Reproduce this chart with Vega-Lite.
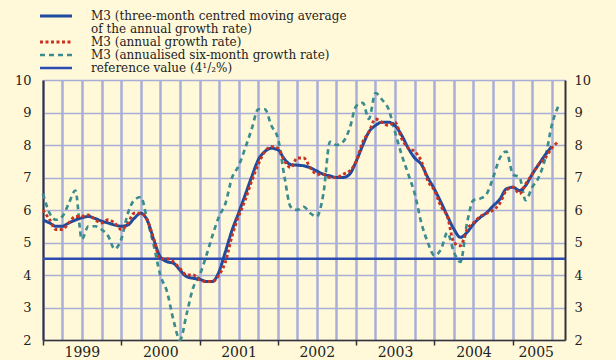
{
  "$schema": "https://vega.github.io/schema/vega-lite/v6.json",
  "width": 522,
  "height": 260,
  "autosize": "none",
  "padding": {"left": 43, "top": 80, "right": 51, "bottom": 20},
  "background": "#FFF9DA",
  "config": {
    "view": {"stroke": null, "fill": "#FFF9DA"},
    "font": "DejaVu Serif"
  },
  "data": {"values": [
    {"date":"1999-01-01","a":5.69,"b":6.0,"c":6.5,"d":4.5},
    {"date":"1999-02-01","a":5.6,"b":5.7,"c":5.9},
    {"date":"1999-03-01","a":5.5,"b":5.4,"c":5.7},
    {"date":"1999-04-01","a":5.5,"b":5.4,"c":5.8},
    {"date":"1999-05-01","a":5.6,"b":5.6,"c":6.2},
    {"date":"1999-06-01","a":5.69,"b":5.8,"c":6.6},
    {"date":"1999-07-01","a":5.76,"b":5.8,"c":5.1},
    {"date":"1999-08-01","a":5.8,"b":5.85,"c":5.5},
    {"date":"1999-09-01","a":5.74,"b":5.7,"c":5.5},
    {"date":"1999-10-01","a":5.66,"b":5.6,"c":5.4},
    {"date":"1999-11-01","a":5.6,"b":5.7,"c":5.2},
    {"date":"1999-12-01","a":5.54,"b":5.6,"c":4.8},
    {"date":"2000-01-01","a":5.5,"b":5.4,"c":5.1},
    {"date":"2000-02-01","a":5.54,"b":5.6,"c":5.9},
    {"date":"2000-03-01","a":5.74,"b":5.9,"c":6.3},
    {"date":"2000-04-01","a":5.9,"b":5.9,"c":6.4},
    {"date":"2000-05-01","a":5.69,"b":5.7,"c":5.7},
    {"date":"2000-06-01","a":5.08,"b":5.1,"c":4.9},
    {"date":"2000-07-01","a":4.56,"b":4.5,"c":4.0},
    {"date":"2000-08-01","a":4.41,"b":4.5,"c":3.5},
    {"date":"2000-09-01","a":4.36,"b":4.4,"c":2.6},
    {"date":"2000-10-01","a":4.15,"b":4.2,"c":2.0},
    {"date":"2000-11-01","a":3.95,"b":4.0,"c":2.8},
    {"date":"2000-12-01","a":3.9,"b":4.0,"c":3.6},
    {"date":"2001-01-01","a":3.87,"b":3.85,"c":4.0},
    {"date":"2001-02-01","a":3.8,"b":3.8,"c":4.6},
    {"date":"2001-03-01","a":3.8,"b":3.8,"c":5.2},
    {"date":"2001-04-01","a":4.1,"b":4.0,"c":5.8},
    {"date":"2001-05-01","a":4.72,"b":4.4,"c":6.2},
    {"date":"2001-06-01","a":5.38,"b":5.2,"c":7.0},
    {"date":"2001-07-01","a":5.9,"b":5.8,"c":7.35},
    {"date":"2001-08-01","a":6.46,"b":6.3,"c":7.9},
    {"date":"2001-09-01","a":7.03,"b":6.9,"c":8.5},
    {"date":"2001-10-01","a":7.54,"b":7.4,"c":9.1},
    {"date":"2001-11-01","a":7.8,"b":7.8,"c":9.1},
    {"date":"2001-12-01","a":7.9,"b":7.95,"c":8.6},
    {"date":"2002-01-01","a":7.85,"b":7.9,"c":8.2},
    {"date":"2002-02-01","a":7.56,"b":7.5,"c":7.0},
    {"date":"2002-03-01","a":7.4,"b":7.3,"c":6.1},
    {"date":"2002-04-01","a":7.38,"b":7.6,"c":6.0},
    {"date":"2002-05-01","a":7.36,"b":7.6,"c":6.1},
    {"date":"2002-06-01","a":7.3,"b":7.3,"c":5.9},
    {"date":"2002-07-01","a":7.2,"b":7.1,"c":5.8},
    {"date":"2002-08-01","a":7.1,"b":7.1,"c":6.5},
    {"date":"2002-09-01","a":7.05,"b":7.0,"c":8.1},
    {"date":"2002-10-01","a":7.0,"b":7.0,"c":8.0},
    {"date":"2002-11-01","a":7.0,"b":7.1,"c":8.1},
    {"date":"2002-12-01","a":7.1,"b":7.2,"c":8.5},
    {"date":"2003-01-01","a":7.5,"b":7.5,"c":9.2},
    {"date":"2003-02-01","a":8.0,"b":8.1,"c":9.3},
    {"date":"2003-03-01","a":8.4,"b":8.4,"c":8.8},
    {"date":"2003-04-01","a":8.6,"b":8.8,"c":9.6},
    {"date":"2003-05-01","a":8.7,"b":8.7,"c":9.4},
    {"date":"2003-06-01","a":8.7,"b":8.6,"c":9.1},
    {"date":"2003-07-01","a":8.6,"b":8.7,"c":8.4},
    {"date":"2003-08-01","a":8.3,"b":8.2,"c":7.7},
    {"date":"2003-09-01","a":7.9,"b":7.9,"c":7.1},
    {"date":"2003-10-01","a":7.6,"b":7.8,"c":6.5},
    {"date":"2003-11-01","a":7.4,"b":7.5,"c":5.6},
    {"date":"2003-12-01","a":7.0,"b":6.9,"c":5.0},
    {"date":"2004-01-01","a":6.64,"b":6.6,"c":4.6},
    {"date":"2004-02-01","a":6.23,"b":6.1,"c":4.8},
    {"date":"2004-03-01","a":5.82,"b":5.8,"c":5.3},
    {"date":"2004-04-01","a":5.41,"b":5.0,"c":4.7},
    {"date":"2004-05-01","a":5.16,"b":4.9,"c":4.4},
    {"date":"2004-06-01","a":5.31,"b":5.4,"c":5.6},
    {"date":"2004-07-01","a":5.57,"b":5.6,"c":6.3},
    {"date":"2004-08-01","a":5.77,"b":5.8,"c":6.35},
    {"date":"2004-09-01","a":5.92,"b":5.9,"c":6.5},
    {"date":"2004-10-01","a":6.13,"b":6.0,"c":7.0},
    {"date":"2004-11-01","a":6.33,"b":6.2,"c":7.6},
    {"date":"2004-12-01","a":6.65,"b":6.6,"c":7.8},
    {"date":"2005-01-01","a":6.7,"b":6.7,"c":7.1},
    {"date":"2005-02-01","a":6.6,"b":6.5,"c":7.0},
    {"date":"2005-03-01","a":6.75,"b":6.8,"c":6.3},
    {"date":"2005-04-01","a":7.1,"b":7.1,"c":6.7},
    {"date":"2005-05-01","a":7.4,"b":7.4,"c":7.0},
    {"date":"2005-06-01","a":7.7,"b":7.6,"c":7.6},
    {"date":"2005-07-01","a":7.95,"b":7.9,"c":8.6},
    {"date":"2005-08-01","b":8.1,"c":9.2,"d":4.5},
    {"date":"2005-09-01","d":4.5}
  ]},
  "transform": [
    {"fold": ["d", "c", "a", "b"], "as": ["key", "value"]},
    {"filter": "isValid(datum.value)"}
  ],
  "encoding": {
    "x": {
      "field": "date", "type": "temporal",
      "scale": {"type": "utc", "domain": [{"year": 1999, "month": 1, "date": 1, "utc": true}, {"year": 2005, "month": 9, "date": 1, "utc": true}]},
      "axis": {
        "title": null,
        "values": [
          {"year":1999,"month":1,"date":1,"utc":true},{"year":1999,"month":4,"date":1,"utc":true},{"year":1999,"month":7,"date":1,"utc":true},{"year":1999,"month":10,"date":1,"utc":true},
          {"year":2000,"month":1,"date":1,"utc":true},{"year":2000,"month":4,"date":1,"utc":true},{"year":2000,"month":7,"date":1,"utc":true},{"year":2000,"month":10,"date":1,"utc":true},
          {"year":2001,"month":1,"date":1,"utc":true},{"year":2001,"month":4,"date":1,"utc":true},{"year":2001,"month":7,"date":1,"utc":true},{"year":2001,"month":10,"date":1,"utc":true},
          {"year":2002,"month":1,"date":1,"utc":true},{"year":2002,"month":4,"date":1,"utc":true},{"year":2002,"month":7,"date":1,"utc":true},{"year":2002,"month":10,"date":1,"utc":true},
          {"year":2003,"month":1,"date":1,"utc":true},{"year":2003,"month":4,"date":1,"utc":true},{"year":2003,"month":7,"date":1,"utc":true},{"year":2003,"month":10,"date":1,"utc":true},
          {"year":2004,"month":1,"date":1,"utc":true},{"year":2004,"month":4,"date":1,"utc":true},{"year":2004,"month":7,"date":1,"utc":true},{"year":2004,"month":10,"date":1,"utc":true},
          {"year":2005,"month":1,"date":1,"utc":true},{"year":2005,"month":4,"date":1,"utc":true},{"year":2005,"month":7,"date":1,"utc":true}
        ],
        "labelExpr": "utcmonth(datum.value) == 6 ? utcFormat(datum.value, '%Y') : ''",
        "labelOffset": {"condition": {"test": "utcyear(datum.value) == 2005", "value": -16}, "value": 0},
        "labelFont": "DejaVu Serif",
        "labelFontSize": 14,
        "labelColor": "#222222",
        "labelPadding": 0,
        "labelFlush": false,
        "labelOverlap": false,
        "tickSize": 5,
        "tickWidth": 1.5,
        "tickColor": {"condition": {"test": "utcmonth(datum.value) == 0", "value": "#333333"}, "value": "transparent"},
        "domainColor": "#333333",
        "domainWidth": 1.5,
        "grid": true,
        "gridColor": "#A9AED6",
        "gridWidth": 2.5
      }
    },
    "color": {
      "field": "key", "type": "nominal",
      "scale": {"domain": ["a", "b", "c", "d"], "range": ["#1F4A9E", "#C8321E", "#3A8C8F", "#2B4CB0"]},
      "legend": {
        "title": null,
        "orient": "none",
        "legendX": 7,
        "legendY": -70,
        "symbolType": "M-4,0H4",
        "symbolSize": 64,
        "labelFont": "DejaVu Serif",
        "labelFontSize": 12,
        "labelColor": "#222222",
        "labelOffset": 29,
        "rowPadding": 1,
        "padding": 0,
        "labelLimit": 500,
        "labelExpr": "datum.value == 'a' ? ['M3 (three-month centred moving average', 'of the annual growth rate)'] : datum.value == 'b' ? 'M3 (annual growth rate)' : datum.value == 'c' ? 'M3 (annualised six-month growth rate)' : 'reference value (4¹/₂%)'",
        "encode": {"labels": {"update": {"lineHeight": {"value": 13}}}}
      }
    },
    "strokeDash": {
      "field": "key", "type": "nominal",
      "scale": {"domain": ["a", "b", "c", "d"], "range": [[1, 0], [3, 2.5], [5, 4], [1, 0]]},
      "legend": null
    },
    "strokeWidth": {
      "field": "key", "type": "nominal",
      "scale": {"domain": ["a", "b", "c", "d"], "range": [3, 2.5, 3.5, 1]},
      "legend": null
    }
  },
  "layer": [
    {
      "transform": [{"filter": "datum.key == 'd'"}],
      "mark": {"type": "line", "interpolate": "linear"},
      "encoding": {
        "y": {
          "field": "value", "type": "quantitative",
          "scale": {"domain": [2, 10], "nice": false, "zero": false},
          "axis": {
            "orient": "right", "title": null, "values": [2,3,4,5,6,7,8,9,10],
            "grid": false, "ticks": false, "labelPadding": 9,
            "labelFont": "DejaVu Serif", "labelFontSize": 13, "labelColor": "#222222",
            "domainColor": "#333333", "domainWidth": 2
          }
        }
      }
    },
    {
      "transform": [{"filter": "datum.key != 'd'"}],
      "mark": {"type": "line", "interpolate": "monotone"},
      "encoding": {
        "y": {
          "field": "value", "type": "quantitative",
          "scale": {"domain": [2, 10], "nice": false, "zero": false},
          "axis": {
            "orient": "left", "title": null, "values": [2,3,4,5,6,7,8,9,10],
            "grid": true, "gridColor": "#A9AED6", "gridWidth": 1.5,
            "ticks": false, "labelPadding": 12,
            "labelFont": "DejaVu Serif", "labelFontSize": 13, "labelColor": "#222222",
            "domainColor": "#333333", "domainWidth": 2
          }
        }
      }
    }
  ],
  "resolve": {"axis": {"y": "independent"}}
}
